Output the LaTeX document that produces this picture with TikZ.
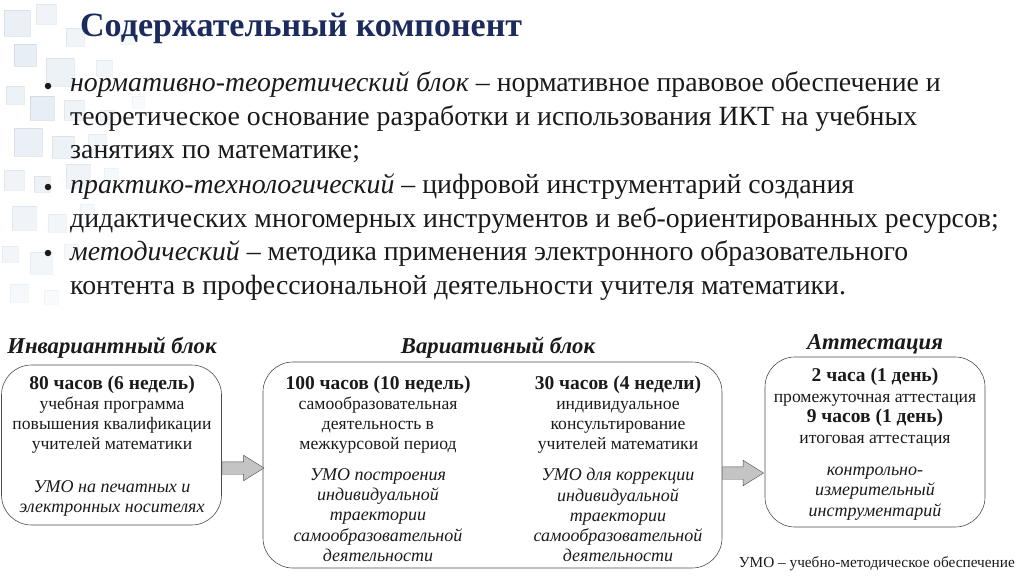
\documentclass[tikz,border=0pt]{standalone}
\usepackage{fontspec}
\setmainfont{Liberation Serif}
\usetikzlibrary{shapes.arrows,positioning,calc}
\definecolor{Navy}{HTML}{1C2B5E}
\definecolor{Frost}{HTML}{C3D4E3}
\definecolor{Ash}{HTML}{C4C4C4}
\definecolor{Ink}{HTML}{1A1A1A}
\newcommand\hrs{\fontsize{19.5}{20}\selectfont\bfseries}
\tikzset{
 tile/.style={fill=Frost,draw=Frost!80!gray},
 bullet/.style={circle,fill=Ink,inner sep=0pt,minimum size=6.5pt},
 item/.style={anchor=north west,inner sep=0pt,align=left,text=Ink,font=\fontsize{27.8}{33.7}\selectfont},
 head/.style={anchor=base,inner sep=0pt,font=\fontsize{22.7}{22.7}\selectfont\bfseries\itshape,text=Ink},
 frame/.style={draw=black!70,rounded corners=30pt,line width=0.6pt},
 txt/.style={anchor=north,inner sep=0pt,align=center,text=Ink,font=\fontsize{17.6}{20}\selectfont},
 umo/.style={txt,font=\fontsize{18}{20.3}\selectfont\itshape},
 blockarr/.style={single arrow,draw=black!70,fill=Ash,inner xsep=0pt,inner ysep=6pt,single arrow head extend=6.5pt,single arrow tip angle=64,anchor=tail}
}
\begin{document}
\begin{tikzpicture}[x=1pt,y=-1pt]
\useasboundingbox (0,0) rectangle (1024,576);
% decoration in the upper left corner
\foreach \x/\y/\s/\o in {4/10/26/0.35,36/4/20/0.25,66/28/18/0.25,14/44/22/0.4,46/58/28/0.3,96/60/16/0.2,
 6/86/18/0.3,30/96/24/0.4,64/100/20/0.25,100/110/14/0.2,14/128/28/0.35,52/136/22/0.3,88/134/18/0.2,
 4/170/20/0.25,34/176/16/0.3,66/164/24/0.25,104/168/14/0.15,12/206/24/0.25,48/214/18/0.2,80/204/14/0.15,
 2/246/16/0.2,30/252/22/0.2,64/244/14/0.15,10/284/18/0.15,44/290/14/0.12,120/30/14/0.15,132/96/12/0.12}
  \fill[tile,opacity=\o] (\x,\y) rectangle ++(\s,\s);
% title and items
\node[anchor=base west,inner sep=0pt,font=\fontsize{34}{34}\selectfont\bfseries,text=Navy] (title) at (80,36) {Содержательный компонент};
\node[bullet] (b1) at (48,86) {};
\node[item] (i1) at (70,71.4) {\textit{нормативно-теоретический блок} -- нормативное правовое обеспечение и\\теоретическое основание разработки и использования ИКТ на учебных\\занятиях по математике;};
\node[bullet] (b2) at (48,187) {};
\node[item] (i2) at (70,173.4) {\textit{практико-технологический} -- цифровой инструментарий создания\\дидактических многомерных инструментов и веб-ориентированных ресурсов;};
\node[bullet] (b3) at (48,253) {};
\node[item] (i3) at (70,240.4) {\textit{методический} -- методика применения электронного образовательного\\контента в профессиональной деятельности учителя математики.};
% three blocks
\node[frame,minimum width=220pt,minimum height=160pt] (inv) at (111.5,445) {};
\node[frame,minimum width=459pt,minimum height=206pt] (var) at (492.5,465) {};
\node[frame,minimum width=220pt,minimum height=170pt] (att) at (875,442) {};
\node[head] (hinv) at (112,353) {Инвариантный блок};
\node[head] (hvar) at (498,353) {Вариативный блок};
\node[head] (hatt) at (875,349) {Аттестация};
\node[txt] (t1) at (112,376) {{\hrs 80 часов (6 недель)}\\учебная программа\\повышения квалификации\\учителей математики};
\node[umo] (u1) at (112,480) {УМО на печатных и\\электронных носителях};
\node[txt] (t2) at (378,376) {{\hrs 100 часов (10 недель)}\\самообразовательная\\деятельность в\\межкурсовой период};
\node[umo] (u2) at (378,468) {УМО построения\\индивидуальной\\траектории\\самообразовательной\\деятельности};
\node[txt] (t3) at (618,376) {{\hrs 30 часов (4 недели)}\\индивидуальное\\консультирование\\учителей математики};
\node[umo] (u3) at (618,468) {УМО для коррекции\\индивидуальной\\траектории\\самообразовательной\\деятельности};
\node[txt,font=\fontsize{17.6}{20.6}\selectfont] (t4) at (875,368) {{\hrs 2 часа (1 день)}\\промежуточная аттестация\\{\hrs 9 часов (1 день)}\\итоговая аттестация};
\node[umo] (u4) at (875,467) {контрольно-\\измерительный\\инструментарий};
% arrows between blocks
\node[blockarr,minimum height=42pt] (a1) at ($(inv.east)+(0,23)$) {};
\node[blockarr,minimum height=41pt] (a2) at ($(var.east)+(0,8)$) {};
\node[anchor=base east,inner sep=0pt,font=\fontsize{15.3}{15.3}\selectfont,text=Ink] (note) at (1015,567) {УМО -- учебно-методическое обеспечение};
\end{tikzpicture}
\end{document}
